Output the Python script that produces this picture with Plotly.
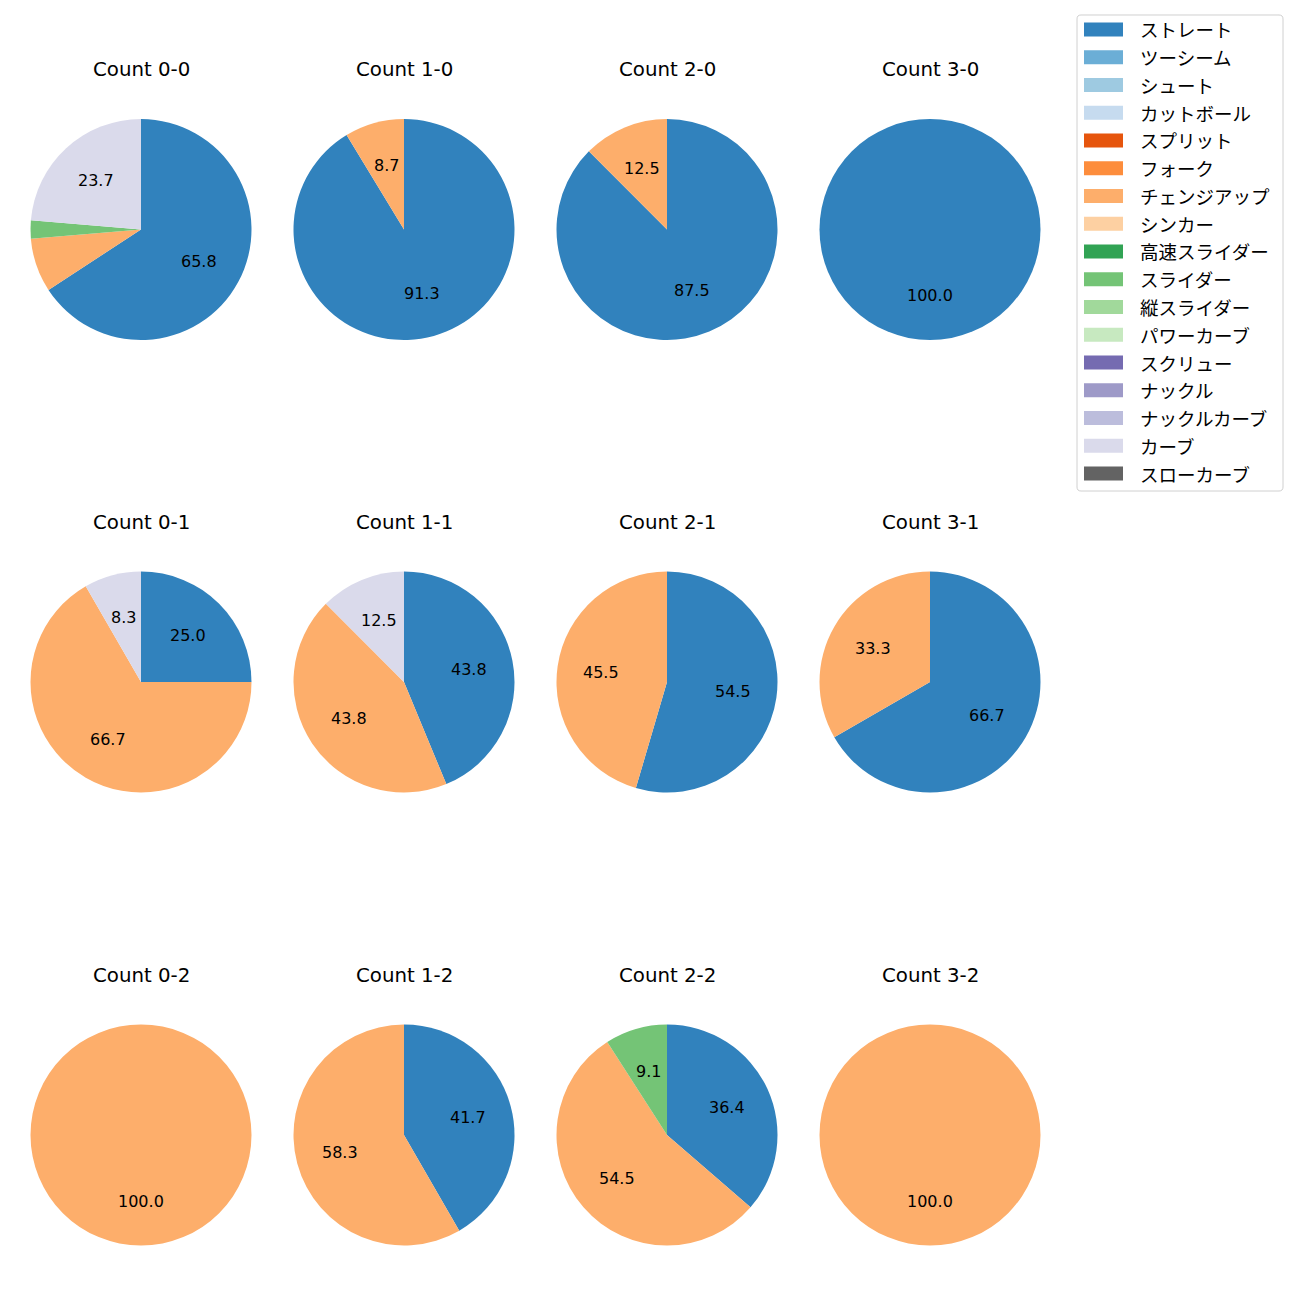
import math
import re
import plotly.graph_objects as go

W = H = 1300
OFF = 8  # page body margin of the browser

pitch_types = ["ストレート", "ツーシーム", "シュート", "カットボール", "スプリット", "フォーク",
               "チェンジアップ", "シンカー", "高速スライダー", "スライダー", "縦スライダー",
               "パワーカーブ", "スクリュー", "ナックル", "ナックルカーブ", "カーブ", "スローカーブ"]
colors = ["#3182bd", "#6baed6", "#9ecae1", "#c6dbef", "#e6550d", "#fd8d3c",
          "#fdae6b", "#fdd0a2", "#31a354", "#74c476", "#a1d99b", "#c7e9c0",
          "#756bb1", "#9e9ac8", "#bcbddc", "#dadaeb", "#636363"]

# pitch counts per ball-strike situation (balls-strikes)
counts = {
    "0-0": {"ストレート": 25, "チェンジアップ": 3, "スライダー": 1, "カーブ": 9},
    "1-0": {"ストレート": 21, "チェンジアップ": 2},
    "2-0": {"ストレート": 7, "チェンジアップ": 1},
    "3-0": {"ストレート": 2},
    "0-1": {"ストレート": 3, "チェンジアップ": 8, "カーブ": 1},
    "1-1": {"ストレート": 7, "チェンジアップ": 7, "カーブ": 2},
    "2-1": {"ストレート": 6, "チェンジアップ": 5},
    "3-1": {"ストレート": 2, "チェンジアップ": 1},
    "0-2": {"チェンジアップ": 3},
    "1-2": {"ストレート": 5, "チェンジアップ": 7},
    "2-2": {"ストレート": 4, "チェンジアップ": 6, "スライダー": 1},
    "3-2": {"チェンジアップ": 2},
}
balls = [0, 1, 2, 3]
strikes = [0, 1, 2]

LATIN = "DejaVu Sans, Noto Sans CJK JP, sans-serif"
JP = "Noto Sans CJK JP, DejaVu Sans, sans-serif"
col_cx = [141, 404, 667, 930]
row_cy = [229.5, 682, 1135]
R = 110.5
LABEL_MIN = 8.0


def px(x):
    return (x - OFF) / W


def py(y):
    return 1 - (y - OFF) / H


fig = go.Figure()
annotations = []
shapes = []
cmap = dict(zip(pitch_types, colors))

for si, s in enumerate(strikes):
    for bi, b in enumerate(balls):
        key = f"{b}-{s}"
        d = counts[key]
        labels = [p for p in pitch_types if p in d]
        vals = [d[p] for p in labels]
        cx, cy = col_cx[bi], row_cy[si]
        fig.add_trace(go.Pie(
            labels=labels, values=vals, sort=False, direction="clockwise", rotation=0,
            marker=dict(colors=[cmap[p] for p in labels], line=dict(width=0)),
            textinfo="none", hoverinfo="label+percent", showlegend=False,
            domain=dict(x=[px(cx - R), px(cx + R)], y=[py(cy + R), py(cy - R)]),
        ))
        total = sum(vals)
        cum = 0
        for v in vals:
            pct = 100 * v / total
            mid = math.radians(90 - 360 * (cum + v / 2) / total)
            cum += v
            if pct < LABEL_MIN:
                continue
            tx = cx + 0.6 * R * math.cos(mid)
            ty = cy - 0.6 * R * math.sin(mid)
            annotations.append(dict(x=px(tx), y=py(ty), xref="paper", yref="paper",
                                    text=f"{pct:.1f}", showarrow=False,
                                    font=dict(family=LATIN, size=16, color="black"),
                                    xanchor="center", yanchor="middle"))
        annotations.append(dict(x=px(cx), y=py(cy - 160), xref="paper", yref="paper",
                                text=f"Count {key}", showarrow=False,
                                font=dict(family=LATIN, size=19.8, color="black"),
                                xanchor="center", yanchor="middle"))

# legend box
lx0, ly0, lx1, ly1 = 1077, 15, 1283, 491
rr = 4
path = (f"M{lx0+rr},{ly0} L{lx1-rr},{ly0} Q{lx1},{ly0} {lx1},{ly0+rr} "
        f"L{lx1},{ly1-rr} Q{lx1},{ly1} {lx1-rr},{ly1} L{lx0+rr},{ly1} "
        f"Q{lx0},{ly1} {lx0},{ly1-rr} L{lx0},{ly0+rr} Q{lx0},{ly0} {lx0+rr},{ly0} Z")


def conv(m):
    x, y = float(m.group(1)), float(m.group(2))
    return f"{px(x):.5f},{py(y):.5f}"


path_p = re.sub(r"([\d.]+),([\d.]+)", conv, path)
shapes.append(dict(type="path", path=path_p, xref="paper", yref="paper",
                   line=dict(color="#d0d0d0", width=1), fillcolor="rgba(255,255,255,0.8)"))
step = 27.75
for i, (p, c) in enumerate(zip(pitch_types, colors)):
    yc = 29.5 + i * step
    shapes.append(dict(type="rect", xref="paper", yref="paper",
                       x0=px(1084), x1=px(1123), y0=py(yc - 7), y1=py(yc + 7),
                       fillcolor=c, line=dict(width=0)))
    annotations.append(dict(x=px(1138), y=py(yc), xref="paper", yref="paper", text=p,
                            showarrow=False, xanchor="left", yanchor="middle",
                            font=dict(family=JP, size=18.5, color="black")))

fig.update_layout(width=W, height=H, margin=dict(l=0, r=0, t=0, b=0),
                  paper_bgcolor="white", plot_bgcolor="white",
                  annotations=annotations, shapes=shapes, showlegend=False)
fig.write_html("out.html")
